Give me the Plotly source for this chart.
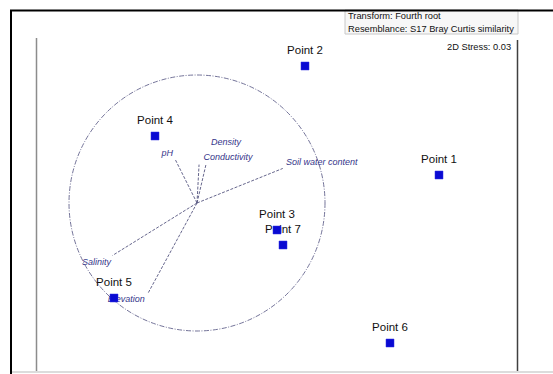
import plotly.graph_objects as go

# ---- data (MDS coordinates) ----
point_names = ["Point 1", "Point 2", "Point 3", "Point 4", "Point 5", "Point 6", "Point 7"]
mds_x = [1.625, 0.285, 0.005, -1.215, -1.625, 1.135, 0.065]
mds_y = [0.30, 1.39, -0.25, 0.69, -0.93, -1.38, -0.40]

# ---- environmental vectors (correlations, circle radius = 1) ----
var_names = ["pH", "Density", "Conductivity", "Soil water content", "Salinity", "Elevation"]
vec_x = [-0.17, 0.016, 0.07, 0.67, -0.66, -0.38]
vec_y = [0.34, 0.30, 0.30, 0.27, -0.41, -0.70]

header_lines = ["Transform: Fourth root", "Resemblance: S17 Bray Curtis similarity"]
stress_text = "2D Stress: 0.03"

# ---- styling / layout constants ----
W, H = 553, 374
PX = 100.0  # pixels per MDS unit
X_RANGE = [-2.765, 2.765]
Y_RANGE = [-1.69, 2.05]
CIRCLE_CENTER = (-0.795, 0.02)
CIRCLE_R = 1.28
LABEL_DY_PX = 15
VEC_LABEL_OFFSET_PX = [(-8, 6), (27, 22), (22, 7), (39, 6), (-16, -7), (-22, -7)]
FONT = "Liberation Sans, Arial, sans-serif"
VEC_COLOR = "#35358a"
MARK_COLOR = "#0a0ad2"

def px_to_paper_x(p):
    return p / W

def px_to_paper_y(p):
    return 1 - p / H

fig = go.Figure()

cx, cy = CIRCLE_CENTER
# vector lines
for vx, vy in zip(vec_x, vec_y):
    fig.add_trace(go.Scatter(
        x=[cx, cx + vx * CIRCLE_R], y=[cy, cy + vy * CIRCLE_R],
        mode="lines", line=dict(color="#55557f", width=0.9, dash="3px,1.5px"),
        hoverinfo="skip", showlegend=False))

# vector labels
fig.add_trace(go.Scatter(
    x=[cx + vx * CIRCLE_R + o[0] / PX for vx, o in zip(vec_x, VEC_LABEL_OFFSET_PX)],
    y=[cy + vy * CIRCLE_R + o[1] / PX for vy, o in zip(vec_y, VEC_LABEL_OFFSET_PX)],
    mode="text", text=var_names, textposition="middle center",
    textfont=dict(family=FONT, size=9, color=VEC_COLOR, style="italic"),
    hoverinfo="skip", showlegend=False))

# point labels
fig.add_trace(go.Scatter(
    x=mds_x, y=[y + LABEL_DY_PX / PX for y in mds_y],
    mode="text", text=point_names, textposition="middle center",
    textfont=dict(family=FONT, size=11.5, color="#111111"),
    hoverinfo="skip", showlegend=False))

# point markers
fig.add_trace(go.Scatter(
    x=mds_x, y=mds_y, mode="markers",
    marker=dict(symbol="square", size=8, color=MARK_COLOR,
                line=dict(color="#3030e0", width=0.5)),
    text=point_names, hoverinfo="text", showlegend=False))

shapes = []
# correlation circle
shapes.append(dict(type="circle", xref="x", yref="y",
                   x0=cx - CIRCLE_R, x1=cx + CIRCLE_R, y0=cy - CIRCLE_R, y1=cy + CIRCLE_R,
                   line=dict(color="#50507f", width=0.8, dash="5px,1.5px,1px,1.5px"), layer="below"))
# header box
shapes.append(dict(type="rect", xref="paper", yref="paper",
                   x0=px_to_paper_x(345), x1=px_to_paper_x(518),
                   y0=px_to_paper_y(34), y1=px_to_paper_y(10),
                   fillcolor="#f7f7f7", line=dict(color="#c8c8c8", width=1), layer="below"))
# outer frame: top and left black
shapes.append(dict(type="line", xref="paper", yref="paper",
                   x0=px_to_paper_x(10), x1=1.0, y0=px_to_paper_y(10.5), y1=px_to_paper_y(10.5),
                   line=dict(color="#000000", width=2)))
shapes.append(dict(type="line", xref="paper", yref="paper",
                   x0=px_to_paper_x(11), x1=px_to_paper_x(11), y0=px_to_paper_y(10), y1=px_to_paper_y(374),
                   line=dict(color="#000000", width=2)))
# bottom light line
shapes.append(dict(type="line", xref="paper", yref="paper",
                   x0=px_to_paper_x(12), x1=1.0, y0=px_to_paper_y(372), y1=px_to_paper_y(372),
                   line=dict(color="#dcdcdc", width=2)))
# plot side lines
shapes.append(dict(type="line", xref="paper", yref="paper",
                   x0=px_to_paper_x(36.5), x1=px_to_paper_x(36.5), y0=px_to_paper_y(38), y1=px_to_paper_y(371),
                   line=dict(color="#8c8c8c", width=1.5)))
shapes.append(dict(type="line", xref="paper", yref="paper",
                   x0=px_to_paper_x(517.5), x1=px_to_paper_x(517.5), y0=px_to_paper_y(40), y1=px_to_paper_y(371),
                   line=dict(color="#404040", width=1.5)))

annotations = []
annotations.append(dict(xref="paper", yref="paper", x=px_to_paper_x(346), y=px_to_paper_y(16.5),
                        text=header_lines[0], showarrow=False, xanchor="left", yanchor="middle",
                        font=dict(family=FONT, size=9.3, color="#111111")))
annotations.append(dict(xref="paper", yref="paper", x=px_to_paper_x(346), y=px_to_paper_y(29),
                        text=header_lines[1], showarrow=False, xanchor="left", yanchor="middle",
                        font=dict(family=FONT, size=9.3, color="#111111")))
annotations.append(dict(xref="paper", yref="paper", x=px_to_paper_x(513), y=px_to_paper_y(47),
                        text=stress_text, showarrow=False, xanchor="right", yanchor="middle",
                        font=dict(family=FONT, size=9.3, color="#111111")))

fig.update_layout(
    width=W, height=H,
    margin=dict(l=0, r=0, t=0, b=0),
    paper_bgcolor="white", plot_bgcolor="white",
    xaxis=dict(range=X_RANGE, visible=False, fixedrange=True),
    yaxis=dict(range=Y_RANGE, visible=False, fixedrange=True),
    shapes=shapes, annotations=annotations,
    showlegend=False,
)

fig.write_html("out.html")
